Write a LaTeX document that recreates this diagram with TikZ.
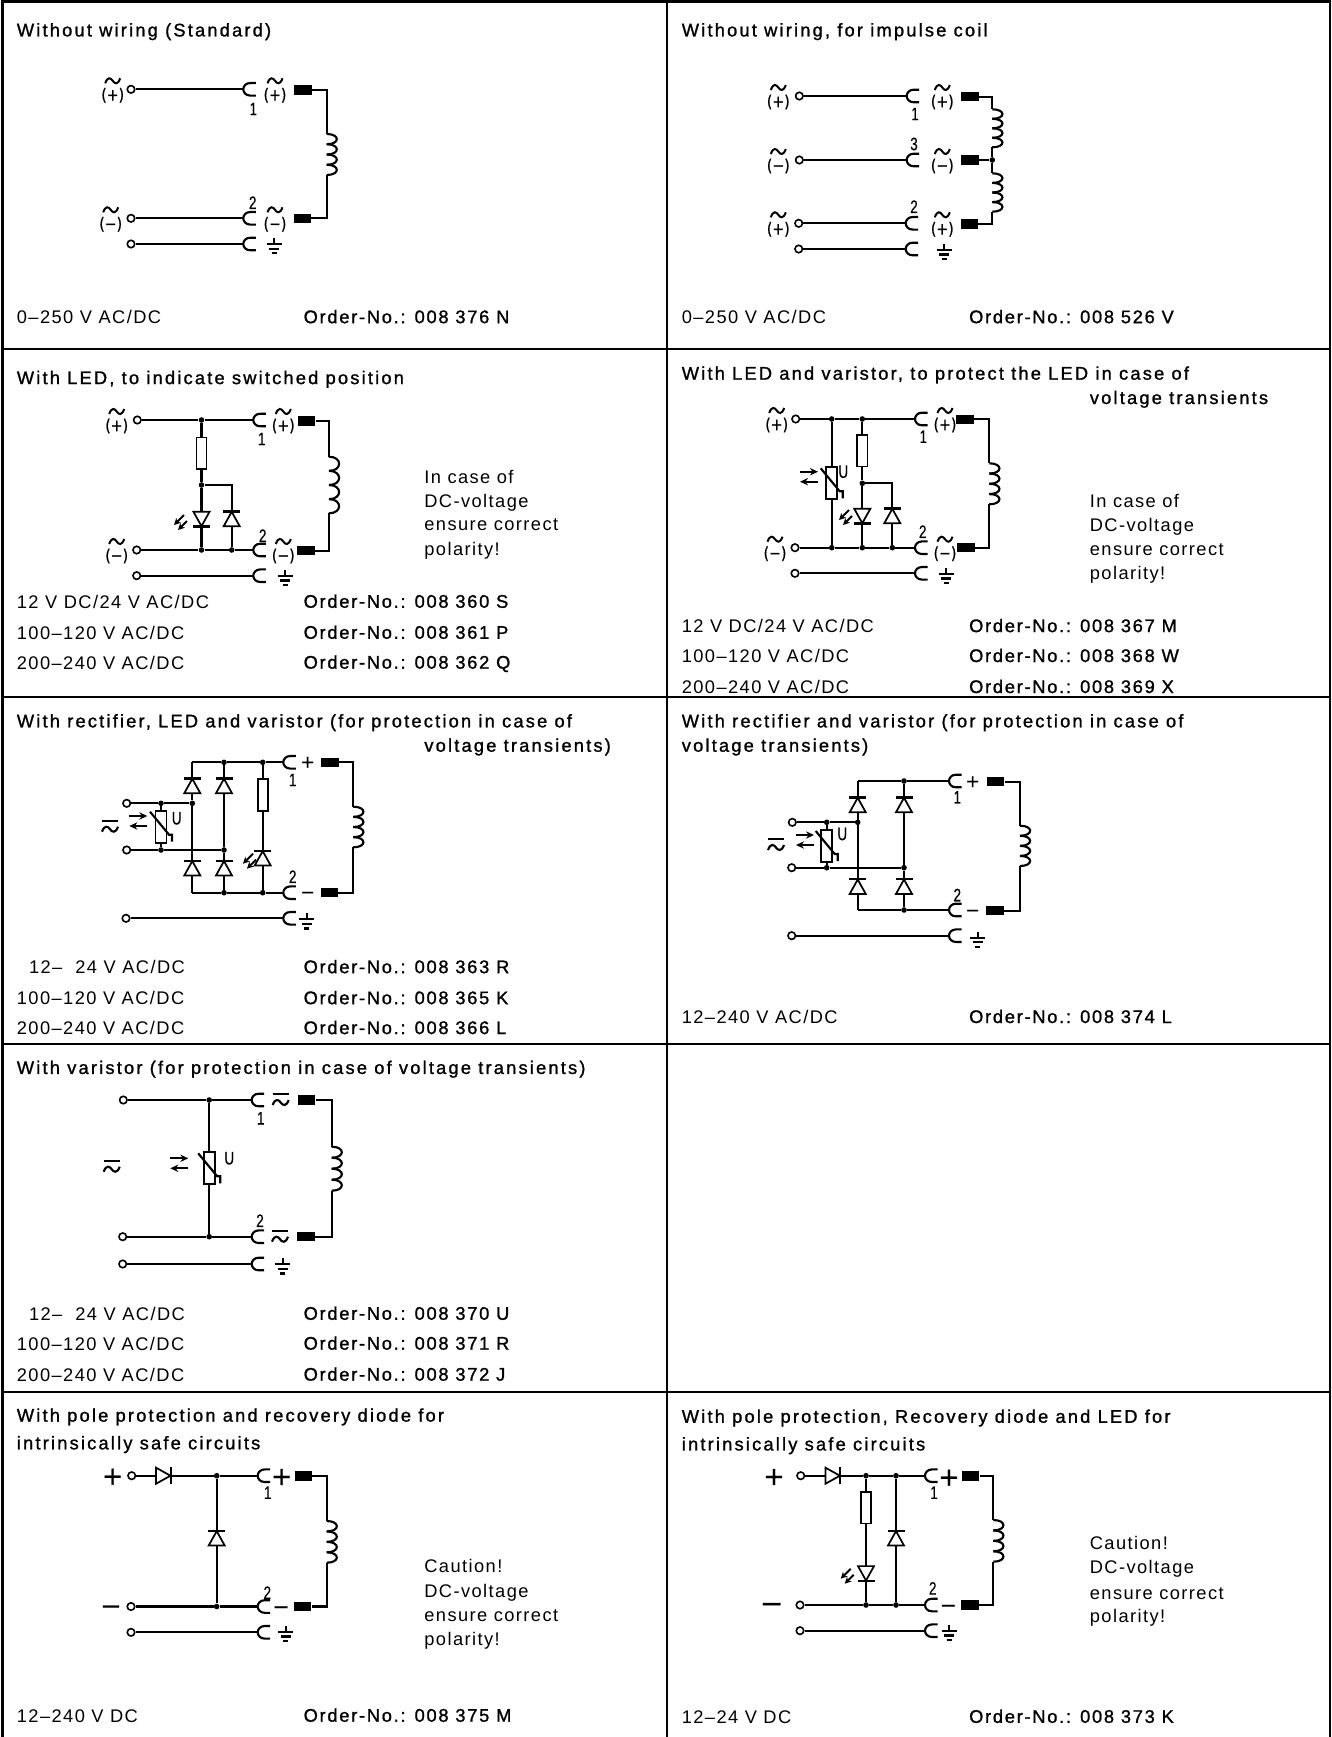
\documentclass[tikz,border=0pt]{standalone}
\usepackage{fontspec}
\usetikzlibrary{arrows.meta}
\setmainfont{Liberation Sans}[LetterSpace=7.8]
\newfontfamily\hdfont{Liberation Sans}[LetterSpace=12,FakeBold=1.2]
\newfontfamily\odfont{Liberation Sans}[LetterSpace=9.5,FakeBold=1.2]
\newfontfamily\symfont{DejaVu Sans}[FakeBold=0.8]
\newfontfamily\numfont{Liberation Sans}[FakeBold=0.5]
\pgfdeclarelayer{sym}
\pgfsetlayers{main,sym}
\newcounter{nd}
\tikzset{
  x=0.75pt,y=-0.75pt,
  frameline/.style={line width=1.6pt,line cap=rect},
  wire/.style={line width=1.6pt,line join=miter},
  thinwire/.style={line width=1.3pt},
  termnode/.style={circle,draw,fill=white,line width=1.2pt,minimum size=5.6pt,inner sep=0pt},
  pinnode/.style={rectangle,fill=black,minimum width=12.8pt,minimum height=7pt,inner sep=0pt},
  dotnode/.style={circle,fill=black,minimum size=4.2pt,inner sep=0pt},
  resnode/.style={rectangle,draw,fill=white,line width=1.3pt,minimum width=7.6pt,minimum height=23.5pt,inner sep=0pt},
  txt/.style={anchor=base west,inner sep=0pt,font=\fontsize{13.7pt}{16pt}\selectfont},
  hd/.style={anchor=base west,inner sep=0pt,font=\fontsize{13.7pt}{16pt}\hdfont},
  od/.style={anchor=base west,inner sep=0pt,font=\fontsize{13.7pt}{16pt}\odfont},
  numlab/.style={inner sep=0pt,xscale=0.75,font=\fontsize{13.5pt}{15pt}\numfont},
  aclab/.style={inner sep=0pt,xscale=0.85,font=\fontsize{12.5pt}{15pt}\symfont},
  tildesym/.pic={\draw[line width=1.5pt] (-7.5,2.5) .. controls (-5,-4.5) and (-2,-3) .. (0,0) .. controls (2,3) and (5,4.5) .. (7.5,-2.5);},
  acbarsym/.pic={\draw[line width=1.6pt] (-8,-6) -- (8,-6);\draw[line width=1.6pt] (-8,5) .. controls (-5.5,-2) and (-2,-0.5) .. (0,2.5) .. controls (2,5.5) and (5.5,7) .. (8,0);},
  sock/.pic={\draw[wire] (12.5,-6.3) -- (7,-6.3) .. controls (2.5,-6.3) and (0,-3) .. (0,0) .. controls (0,3) and (2.5,6.3) .. (7,6.3) -- (12.5,6.3);},
  gndsym/.pic={\draw[wire] (0,0) -- (0,6) (-7.5,6) -- (7.5,6) (-5,10.5) -- (5,10.5);\draw[line width=1.8pt] (-2.5,15) -- (2.5,15);},
  diodeup/.pic={\draw[thinwire,fill=white] (0,-7.2) -- (8,7.2) -- (-8,7.2) -- cycle;\draw[wire] (-8.5,-7.5) -- (8.5,-7.5);},
  diodedown/.pic={\draw[thinwire,fill=white] (0,7.2) -- (8,-7.2) -- (-8,-7.2) -- cycle;\draw[wire] (-8.5,7.5) -- (8.5,7.5);},
  dioderight/.pic={\draw[thinwire,fill=white] (7.2,0) -- (-7.2,8) -- (-7.2,-8) -- cycle;\draw[wire] (7.5,-8.5) -- (7.5,8.5);},
  ledarrows/.pic={\draw[line width=1.5pt,-{Stealth[length=5pt,width=5pt]}] (4,-8) -- (-6,2);\draw[line width=1.5pt,-{Stealth[length=5pt,width=5pt]}] (7,-2) -- (-2,7);},
  varsym/.pic={\draw[thinwire,fill=white] (-5.5,-16) rectangle (5.5,16);\draw[wire] (-11,-15) -- (8,8) -- (11,8) -- (11,15);},
  vararrows/.pic={\draw[line width=1.5pt,-{Stealth[length=6pt,width=5.5pt]}] (-9,-5) -- (9,-5);\draw[line width=1.5pt,-{Stealth[length=6pt,width=5.5pt]}] (9,5) -- (-9,5);},
}
\newcommand\Tx[3]{\stepcounter{nd}\node[txt] (n\arabic{nd}) at ({#1*1.1073},{#2*1.1073+7}) {#3};}
\newcommand\Hd[3]{\stepcounter{nd}\node[hd] (n\arabic{nd}) at ({#1*1.1073},{#2*1.1073+6.5}) {#3};}
\newcommand\Od[3]{\stepcounter{nd}\node[od] (n\arabic{nd}) at ({#1*1.1073},{#2*1.1073+6.5}) {#3};}
\newcommand\Term[3]{\begin{pgfonlayer}{sym}\node[termnode] (#1) at (#2,#3) {};\end{pgfonlayer}}
\newcommand\Pin[3]{\node[pinnode] (#1) at (#2,#3) {};}
\newcommand\Jn[3]{\begin{pgfonlayer}{sym}\node[dotnode] (#1) at (#2,#3) {};\end{pgfonlayer}}
\newcommand\Sock[3]{\coordinate (#1) at (#2,#3);\pic at (#1) {sock};}
\newcommand\Gnd[2]{\pic at (#1,#2) {gndsym};}
\newcommand\Res[3]{\begin{pgfonlayer}{sym}\node[resnode] (#1) at (#2,#3) {};\end{pgfonlayer}}
\newcommand\Dio[4]{\coordinate (#1) at (#2,#3);\begin{pgfonlayer}{sym}\pic at (#1) {#4};\end{pgfonlayer}}
\newcommand\Led[2]{\pic at (#1,#2) {ledarrows};}
\newcommand\Var[3]{\coordinate (#1) at (#2,#3);\begin{pgfonlayer}{sym}\pic at (#1) {varsym};\end{pgfonlayer}}
\newcommand\VarA[2]{\pic at (#1,#2) {vararrows};}
\newcommand\Num[3]{\stepcounter{nd}\node[numlab] (n\arabic{nd}) at (#1,#2) {#3};}
\newcommand\AC[3]{\pic at (#1,{#2-8.5}) {tildesym};\stepcounter{nd}\node[aclab] (n\arabic{nd}) at (#1,{#2+6}) {(#3)};}
\newcommand\AB[2]{\pic at (#1,#2) {acbarsym};}
\newcommand\Sy[4]{\stepcounter{nd}\node[inner sep=0pt,font=\fontsize{#3pt}{#3pt}\symfont] (n\arabic{nd}) at (#1,#2) {#4};}
\newcommand\Coil[4]{\coordinate (#1T) at (#2,#3);\coordinate (#1B) at (#2,#4);
 \pgfmathsetmacro\chh{(#4-#3)/4}
 \foreach \k in {0,1,2,3}{\draw[wire] (#2,{#3+\k*\chh}) .. controls ({#2+13.5},{#3+\k*\chh}) and ({#2+13.5},{#3+(\k+1)*\chh}) .. (#2,{#3+(\k+1)*\chh});}}
\newcommand\U[2]{\stepcounter{nd}\node[numlab] (n\arabic{nd}) at (#1,#2) {U};}
\begin{document}
\begin{tikzpicture}
\useasboundingbox (0,0) rectangle (1331,1737);
% frame
\coordinate (fTL) at (2.5,1.5);\coordinate (fTR) at (1330,1.5);\coordinate (fBL) at (2.5,1737);\coordinate (fBR) at (1330,1737);
\coordinate (fTM) at (667,1.5);\coordinate (fBM) at (667,1737);
\draw[frameline] (fBL) -- (fTL) -- (fTR) -- (fBR);
\draw[frameline] (fTM) -- (fBM);
\foreach \yy in {349.3,696.7,1044,1392}{\draw[frameline] (2.5,\yy) -- (1330,\yy);}
% ---------- texts
\Hd{15}{27}{Without wiring (Standard)}
\Tx{15}{286}{0–250 V AC/DC}
\Od{274}{286}{Order-No.: 008 376 N}
\Hd{615.5}{27}{Without wiring, for impulse coil}
\Tx{615.5}{286}{0–250 V AC/DC}
\Od{875}{286}{Order-No.: 008 526 V}
\Hd{15}{341}{With LED, to indicate switched position}
\Tx{383}{430}{In case of}\Tx{383}{452}{DC-voltage}\Tx{383}{473}{ensure correct}\Tx{383}{495}{polarity!}
\Tx{15}{543}{12 V DC/24 V AC/DC}\Od{274}{543}{Order-No.: 008 360 S}
\Tx{15}{571}{100–120 V AC/DC}\Od{274}{571}{Order-No.: 008 361 P}
\Tx{15}{598}{200–240 V AC/DC}\Od{274}{598}{Order-No.: 008 362 Q}
\Hd{615.5}{337}{With LED and varistor, to protect the LED in case of}
\Hd{984}{359}{voltage transients}
\Tx{984}{452}{In case of}\Tx{984}{474}{DC-voltage}\Tx{984}{495}{ensure correct}\Tx{984}{517}{polarity!}
\Tx{615.5}{565}{12 V DC/24 V AC/DC}\Od{875}{565}{Order-No.: 008 367 M}
\Tx{615.5}{592}{100–120 V AC/DC}\Od{875}{592}{Order-No.: 008 368 W}
\Tx{615.5}{620}{200–240 V AC/DC}\Od{875}{620}{Order-No.: 008 369 X}
\Hd{15}{651}{With rectifier, LED and varistor (for protection in case of}
\Hd{383}{673}{voltage transients)}
\Tx{26}{873}{12–\ \ 24 V AC/DC}\Od{274}{873}{Order-No.: 008 363 R}
\Tx{15}{901}{100–120 V AC/DC}\Od{274}{901}{Order-No.: 008 365 K}
\Tx{15}{928}{200–240 V AC/DC}\Od{274}{928}{Order-No.: 008 366 L}
\Hd{615.5}{651}{With rectifier and varistor (for protection in case of}
\Hd{615.5}{673}{voltage transients)}
\Tx{615.5}{918}{12–240 V AC/DC}\Od{875}{918}{Order-No.: 008 374 L}
\Hd{15}{964}{With varistor (for protection in case of voltage transients)}
\Tx{26}{1186}{12–\ \ 24 V AC/DC}\Od{274}{1186}{Order-No.: 008 370 U}
\Tx{15}{1213}{100–120 V AC/DC}\Od{274}{1213}{Order-No.: 008 371 R}
\Tx{15}{1241}{200–240 V AC/DC}\Od{274}{1241}{Order-No.: 008 372 J}
\Hd{15}{1278}{With pole protection and recovery diode for}
\Hd{15}{1303}{intrinsically safe circuits}
\Tx{383}{1414}{Caution!}\Tx{383}{1436}{DC-voltage}\Tx{383}{1458}{ensure correct}\Tx{383}{1480}{polarity!}
\Tx{15}{1549}{12–240 V DC}\Od{274}{1549}{Order-No.: 008 375 M}
\Hd{615.5}{1279}{With pole protection, Recovery diode and LED for}
\Hd{615.5}{1304}{intrinsically safe circuits}
\Tx{984}{1393}{Caution!}\Tx{984}{1415}{DC-voltage}\Tx{984}{1438}{ensure correct}\Tx{984}{1459}{polarity!}
\Tx{615.5}{1550}{12–24 V DC}\Od{875}{1550}{Order-No.: 008 373 K}
% ---------- A: without wiring
\Term{a1}{131}{89.3}\Sock{as1}{243.3}{89.3}\Pin{ap1}{303}{90}
\Term{a2}{131}{218.3}\Sock{as2}{243.3}{218.3}\Pin{ap2}{302.3}{218.3}
\Term{a3}{131}{244}\Sock{as3}{243.3}{244}
\Coil{ac}{326.7}{134}{175}
\draw[wire] (a1) -- (as1) (a2) -- (as2) (a3) -- (as3);
\draw[wire] (ap1.east) -| (acT) (acB) |- (ap2.east);
\AC{112.7}{89.3}{+}\AC{275}{89.3}{+}\AC{110.7}{218.3}{−}\AC{275}{218.3}{−}
\Num{253.3}{109}{1}\Num{252.7}{202.7}{2}\Gnd{274}{238.3}
% ---------- B: impulse coil
\Term{b1}{799.3}{96}\Sock{bs1}{906.7}{96}\Pin{bp1}{970}{96.7}
\Term{b2}{799.3}{160}\Sock{bs2}{906.7}{160}\Pin{bp2}{970}{160}
\Term{b3}{798.7}{223.3}\Sock{bs3}{905.7}{223.3}\Pin{bp3}{969.3}{224}
\Term{b4}{798.7}{249}\Sock{bs4}{905.7}{249}
\Coil{bc}{992.3}{109.3}{147.3}\Coil{bd}{992.3}{173.3}{211.7}
\Jn{bj}{992.3}{160}
\draw[wire] (b1) -- (bs1) (b2) -- (bs2) (b3) -- (bs3) (b4) -- (bs4);
\draw[wire] (bp1.east) -| (bcT) (bcB) -- (bj) -- (bdT) (bdB) |- (bp3.east) (bp2.east) -- (bj);
\AC{778.3}{96}{+}\AC{942.3}{96}{+}\AC{778.3}{160}{−}\AC{942.3}{160}{−}\AC{778.3}{223.3}{+}\AC{942.3}{223.3}{+}
\Num{915}{114}{1}\Num{914}{144}{3}\Num{914}{206.7}{2}\Gnd{944}{244}
% ---------- C: LED
\Term{c1}{137.3}{420}\Sock{cs1}{253.3}{420}\Pin{cp1}{306.7}{421}
\Term{c2}{136.7}{550}\Sock{cs2}{253.3}{550}\Pin{cp2}{306}{550.7}
\Term{c3}{136.7}{575.7}\Sock{cs3}{253.3}{575.7}
\Jn{cj1}{201.5}{420}\Jn{cj2}{201.5}{485}\Jn{cj3}{201.5}{550}\Jn{cj4}{231.7}{550}
\coordinate (cq) at (231.7,485);
\Res{cr}{201.5}{453.2}\Dio{cd1}{201.5}{519}{diodedown}\Dio{cd2}{231.7}{519}{diodeup}\Led{180}{523}
\Coil{cc}{329}{456.7}{513.3}
\draw[wire] (c1) -- (cj1) -- (cs1) (c2) -- (cj3) -- (cj4) -- (cs2) (c3) -- (cs3);
\draw[wire] (cj1) -- (cr) -- (cj2) -- (cd1) -- (cj3) (cj2) -- (cq) -- (cd2) -- (cj4);
\draw[wire] (cp1.east) -| (ccT) (ccB) |- (cp2.east);
\AC{116.7}{420}{+}\AC{283.3}{420}{+}\AC{116.7}{550}{−}\AC{283.3}{550}{−}
\Num{261.7}{439}{1}\Num{262.7}{535.7}{2}\Gnd{285}{570}
% ---------- D: LED and varistor
\Term{d1}{795.7}{419}\Sock{ds1}{915}{419}\Pin{dp1}{965}{419.3}
\Term{d2}{795}{547.7}\Sock{ds2}{915}{547.7}\Pin{dp2}{966}{547.7}
\Term{d3}{795}{573.3}\Sock{ds3}{915}{573.3}
\Jn{dj1}{831.7}{419}\Jn{dj2}{862.3}{419}\Jn{dj3}{862.3}{483.3}\Jn{dj4}{831.7}{547.7}\Jn{dj5}{862.3}{547.7}\Jn{dj6}{892.3}{547.7}
\coordinate (dq) at (892.3,483.3);
\Var{dv}{831.7}{483.3}\VarA{809}{476.7}\U{843.3}{471.7}
\Res{dr}{862.3}{450.7}\Dio{dd1}{862.3}{516}{diodedown}\Dio{dd2}{892.3}{516}{diodeup}\Led{845}{518}
\Coil{dc}{989.3}{463.3}{504.3}
\draw[wire] (d1) -- (dj1) -- (dj2) -- (ds1) (d2) -- (dj4) -- (dj5) -- (dj6) -- (ds2) (d3) -- (ds3);
\draw[wire] (dj1) -- (dv) -- (dj4) (dj2) -- (dr) -- (dj3) -- (dd1) -- (dj5) (dj3) -- (dq) -- (dd2) -- (dj6);
\draw[wire] (dp1.east) -| (dcT) (dcB) |- (dp2.east);
\AC{776.7}{419}{+}\AC{945}{419}{+}\AC{775}{547.7}{−}\AC{945}{547.7}{−}
\Num{923.3}{436.7}{1}\Num{922.7}{531.7}{2}\Gnd{946}{568}
% ---------- E: rectifier, LED, varistor
\coordinate (eA) at (192.3,762.3);\coordinate (eB) at (192.3,892.7);
\Jn{ej1}{224}{762.3}\Jn{ej2}{262.7}{762.3}\Jn{ej3}{224}{892.7}\Jn{ej4}{262.7}{892.7}
\Sock{es1}{283.3}{762.3}\Sock{es2}{283.3}{892.7}
\Term{e1}{126.7}{803.3}\Term{e2}{126.7}{850}\Term{e3}{126}{918.3}\Sock{es3}{283.3}{918.3}
\Jn{ej5}{161}{803.3}\Jn{ej6}{192.3}{803.3}\Jn{ej7}{161}{850}\Jn{ej8}{224}{850}
\Dio{ed1}{192.3}{786}{diodeup}\Dio{ed2}{224}{786}{diodeup}\Dio{ed3}{192.3}{868.3}{diodeup}\Dio{ed4}{224}{868.3}{diodeup}
\Dio{ed5}{262.7}{858.3}{diodeup}\Res{er}{262.7}{795}\Led{249}{861.7}
\Var{ev}{161}{826.7}\VarA{138.3}{821}\U{176.7}{818.3}
\Pin{ep1}{330}{762.3}\Pin{ep2}{329.3}{892.7}\Coil{ec}{353.3}{806.7}{847.3}
\draw[wire] (eA) -- (ej1) -- (ej2) -- (es1) (eB) -- (ej3) -- (ej4) -- (es2) (e3) -- (es3);
\draw[wire] (eA) -- (ej6) -- (ed3) -- (eB) (ej1) -- (ed2) -- (ej8) -- (ed4) -- (ej3);
\draw[wire] (ej2) -- (er) -- (ed5) -- (ej4);
\draw[wire] (e1) -- (ej5) -- (ej6) (e2) -- (ej7) -- (ej8) (ej5) -- (ev) -- (ej7);
\draw[wire] (ep1.east) -| (ecT) (ecB) |- (ep2.east);
\AB{110}{826.7}\Sy{307.7}{762.3}{13}{+}\Sy{307.7}{895}{13}{−}
\Num{292.7}{780}{1}\Num{292.7}{876.7}{2}\Gnd{306.7}{913.3}
% ---------- F: rectifier, varistor
\coordinate (fA) at (857.7,781);\coordinate (fB) at (857.7,910);
\Jn{fj1}{904}{781}\Jn{fj2}{904}{910}\Sock{fs1}{949}{781}\Sock{fs2}{949}{910}
\Term{f1}{792.3}{822.3}\Term{f2}{791.7}{867.7}\Term{f3}{791.7}{935.7}\Sock{fs3}{949}{935.7}
\Jn{fj3}{826.7}{822.3}\Jn{fj4}{857.7}{822.3}\Jn{fj5}{826.7}{867.7}\Jn{fj6}{904}{867.7}
\Dio{fd1}{857.7}{805}{diodeup}\Dio{fd2}{904}{805}{diodeup}\Dio{fd3}{857.7}{886.7}{diodeup}\Dio{fd4}{904}{886.7}{diodeup}
\Var{fv}{826.7}{846}\VarA{805}{840}\U{842.3}{834}
\Pin{fp1}{995.7}{781.7}\Pin{fp2}{995}{910.7}\Coil{fc}{1020}{825.7}{866}
\draw[wire] (fA) -- (fj1) -- (fs1) (fB) -- (fj2) -- (fs2) (f3) -- (fs3);
\draw[wire] (fA) -- (fj4) -- (fd1) -- (fB) (fj1) -- (fd2) -- (fj6) -- (fd4) -- (fj2);
\draw[wire] (f1) -- (fj3) -- (fj4) (f2) -- (fj5) -- (fj6) (fj3) -- (fv) -- (fj5);
\draw[wire] (fp1.east) -| (fcT) (fcB) |- (fp2.east);
\AB{776}{845}\Sy{972.7}{781.7}{13}{+}\Sy{972.7}{913}{13}{−}
\Num{957.3}{797.3}{1}\Num{957.3}{895}{2}\Gnd{977.7}{931.7}
% ---------- G: varistor
\Term{g1}{123.3}{1100}\Term{g2}{122.7}{1236.7}\Term{g3}{122.7}{1264}
\Sock{gs1}{251.7}{1100}\Sock{gs2}{251.7}{1236.7}\Sock{gs3}{251.7}{1264}
\Jn{gj1}{209.2}{1100}\Jn{gj2}{209.2}{1236.7}
\Var{gv}{209.2}{1168.3}\VarA{179.3}{1163.3}\U{229.3}{1158.3}
\Pin{gp1}{306.7}{1100}\Pin{gp2}{306}{1236.7}\Coil{gc}{331.7}{1146.7}{1190.7}
\draw[wire] (g1) -- (gj1) -- (gs1) (g2) -- (gj2) -- (gs2) (g3) -- (gs3) (gj1) -- (gv) -- (gj2);
\draw[wire] (gp1.east) -| (gcT) (gcB) |- (gp2.east);
\AB{111.7}{1166.7}\AB{280.7}{1100}\AB{280}{1236.7}
\Num{260.7}{1118.3}{1}\Num{260}{1220.7}{2}\Gnd{282.7}{1258.3}
% ---------- H: pole protection
\Term{h1}{131.7}{1475.7}\Dio{hd1}{163.3}{1475.7}{dioderight}\Jn{hj1}{216.7}{1475.7}\Sock{hs1}{257.7}{1475.7}\Pin{hp1}{303.3}{1476}
\Term{h2}{131}{1606.5}\Jn{hj2}{216.7}{1606.5}\Sock{hs2}{257.7}{1606.5}\Pin{hp2}{302.7}{1606.5}
\Term{h3}{131}{1632.3}\Sock{hs3}{257.7}{1632.3}
\Dio{hd2}{216.7}{1538.3}{diodeup}\Coil{hc}{326.7}{1521}{1562.7}
\draw[wire] (h1) -- (hd1) -- (hj1) -- (hs1) (h2) -- (hj2) -- (hs2) (h3) -- (hs3) (hj1) -- (hd2) -- (hj2);
\draw[wire] (hp1.east) -| (hcT) (hcB) |- (hp2.east);
\Sy{112.7}{1476.7}{19}{+}\Sy{281.7}{1477}{19}{+}\Sy{111}{1610}{19}{−}\Sy{281}{1610}{15}{−}
\Num{267.7}{1492.7}{1}\Num{267.3}{1592.7}{2}\Gnd{285.7}{1626}
% ---------- I: pole protection, LED
\Term{i1}{800.7}{1475.7}\Dio{id1}{832.7}{1475.7}{dioderight}\Jn{ij1}{866}{1475.7}\Jn{ij2}{896}{1475.7}\Sock{is1}{925}{1475.7}\Pin{ip1}{970.7}{1476}
\Term{i2}{800}{1605}\Jn{ij3}{866}{1605}\Jn{ij4}{896}{1605}\Sock{is2}{925}{1605}\Pin{ip2}{970}{1605}
\Term{i3}{800}{1630.7}\Sock{is3}{925}{1630.7}
\Res{ir}{866}{1507.7}\Dio{id2}{866}{1573.3}{diodedown}\Led{846.7}{1576.7}\Dio{id3}{896}{1538.3}{diodeup}
\Coil{ic}{993.3}{1520}{1561.7}
\draw[wire] (i1) -- (id1) -- (ij1) -- (ij2) -- (is1) (i2) -- (ij3) -- (ij4) -- (is2) (i3) -- (is3);
\draw[wire] (ij1) -- (ir) -- (id2) -- (ij3) (ij2) -- (id3) -- (ij4);
\draw[wire] (ip1.east) -| (icT) (icB) |- (ip2.east);
\Sy{774}{1477}{19}{+}\Sy{949}{1477.7}{19}{+}\Sy{771.7}{1608}{21}{−}\Sy{948.3}{1608.5}{15}{−}
\Num{934}{1492.7}{1}\Num{932.7}{1588.3}{2}\Gnd{949}{1625}
\end{tikzpicture}
\end{document}
